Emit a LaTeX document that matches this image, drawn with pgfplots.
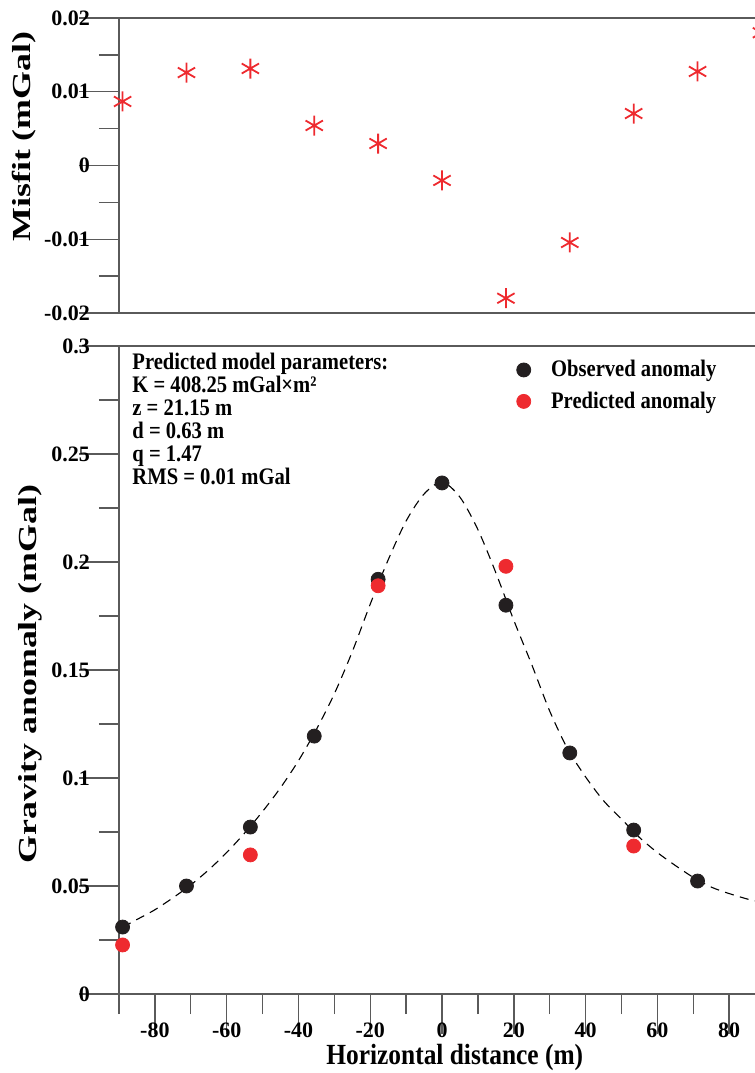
\documentclass[border=0pt]{standalone}
\usepackage{fontspec}
\setmainfont{Liberation Serif}
\usepackage{pgfplots}
\pgfplotsset{compat=1.18}
\definecolor{obsblack}{HTML}{231F20}
\definecolor{misred}{HTML}{EE2A2F}
\definecolor{axgray}{HTML}{5A5A5A}

\pgfplotsset{
  myax/.style={
    scale only axis, width=318pt, xmin=-90, xmax=87.2,
    axis x line=box, axis y line=left, % right edge of the figure is cropped
    xtick pos=lower, ytick pos=left,
    axis line style={axgray, line width=0.8pt, -},
    tick style={axgray, line width=0.7pt},
    tick align=outside,
    major tick length=20pt, minor tick length=10pt,
    tick label style={font=\bfseries\fontsize{11}{13}\selectfont},
    yticklabel style={xshift=9pt},
    xticklabel style={yshift=9pt},
    ylabel style={font=\bfseries\fontsize{13}{15}\selectfont, anchor=center},
    scaled ticks=false,
    clip=false,
  }
}

\begin{document}
\begin{tikzpicture}
  \useasboundingbox (-59.5pt,-39.5pt) rectangle (318pt,497pt);
  \clip (-59.5pt,-39.5pt) rectangle (318pt,497pt);

  % misfit panel
  \begin{axis}[myax, at={(0pt,340.5pt)}, anchor=south west, height=147.5pt,
      ymin=-0.02, ymax=0.02, xtick=\empty,
      ytick={-0.02,-0.01,0,0.01,0.02}, yticklabels={-0.02,-0.01,0,0.01,0.02},
      minor ytick={-0.015,-0.005,0.005,0.015},
      ylabel={\scalebox{1.38}[1]{Misfit (mGal)}},
      ylabel style={at={(axis description cs:-0.149,0.598)}}]
    \addplot[only marks, mark=asterisk, mark size=5pt, misred,
      mark options={line width=0.9pt}] coordinates {
      (-89,0.00868) (-71.2,0.0126) (-53.4,0.01315) (-35.6,0.00542)
      (-17.8,0.00298) (0,-0.00203) (17.8,-0.0180) (35.6,-0.01044)
      (53.4,0.00705) (71.2,0.01275) (89,0.0180)};
  \end{axis}

  % gravity anomaly panel
  \begin{axis}[myax, at={(0pt,0pt)}, anchor=south west, height=324pt,
      ymin=0, ymax=0.3,
      xtick={-80,-60,-40,-20,0,20,40,60,80},
      xticklabels={-80,-60,-40,-20,0,20,40,60,80},
      minor xtick={-90,-70,-50,-30,-10,10,30,50,70},
      ytick={0,0.05,0.1,0.15,0.2,0.25,0.3},
      yticklabels={0,0.05,0.1,0.15,0.2,0.25,0.3},
      minor ytick={0.025,0.075,0.125,0.175,0.225,0.275},
      xlabel={\scalebox{1}[1.15]{Horizontal distance (m)}},
      xlabel style={font=\bfseries\fontsize{12.7}{15}\selectfont,
        at={(axis description cs:0.528,0)}, anchor=center, yshift=-31.5pt},
      ylabel={\scalebox{1.38}[1]{Gravity anomaly (mGal)}},
      ylabel style={at={(axis description cs:-0.14,0.494)}},
      legend style={draw=none, fill=none, at={(axis description cs:0.615,0.991)},
        anchor=north west, font=\bfseries\fontsize{10.3}{12}\selectfont,
        row sep=2pt},
      legend image code/.code={\draw[#1] plot coordinates {(0pt,0pt)};
        \path (-3.4pt,0pt) (11.5pt,0pt);},
      legend cell align=left]
    \addplot[forget plot, smooth, black, line width=0.55pt,
      dash pattern=on 4.5pt off 3.2pt] coordinates {
      (-89,0.031) (-85,0.0345) (-80,0.039) (-75,0.0445) (-70,0.0505)
      (-65,0.0575) (-60,0.0655) (-55,0.0745) (-50,0.0845) (-45,0.0955)
      (-40,0.108) (-35,0.1225) (-30,0.139) (-25,0.1585) (-20,0.1805)
      (-15,0.201) (-10,0.219) (-5,0.2315) (0,0.237) (5,0.230) (10,0.215)
      (15,0.195) (20,0.173) (25,0.1525) (30,0.131) (35,0.1135) (40,0.1005)
      (45,0.0895) (50,0.081) (55,0.0725) (60,0.0655) (65,0.0595)
      (70,0.054) (75,0.0495) (80,0.0465) (85,0.044) (87.5,0.043)};
    \addplot[only marks, mark=*, mark size=3.5pt, obsblack] coordinates {
      (-89,0.031) (-71.2,0.050) (-53.4,0.0773) (-35.6,0.1194) (-17.8,0.192)
      (0,0.2366) (17.8,0.180) (35.6,0.1116) (53.4,0.0759) (71.2,0.0523)};
    \addlegendentry{\scalebox{1}[1.15]{Observed anomaly}}
    \addplot[only marks, mark=*, mark size=3.5pt, misred] coordinates {
      (-89,0.0227) (-53.4,0.0644) (-17.8,0.189) (17.8,0.198) (53.4,0.0685)};
    \addlegendentry{\scalebox{1}[1.15]{Predicted anomaly}}
    \node[anchor=north west, inner sep=0pt,
      font=\bfseries\fontsize{10.3}{9.9}\selectfont]
      at (rel axis cs:0.0205,0.99)
      {\scalebox{1}[1.15]{\begin{tabular}{@{}l@{}}
       Predicted model parameters:\\K = 408.25 mGal×m²\\z = 21.15 m\\
       d = 0.63 m\\q = 1.47\\RMS = 0.01 mGal\end{tabular}}};
  \end{axis}
\end{tikzpicture}
\end{document}
